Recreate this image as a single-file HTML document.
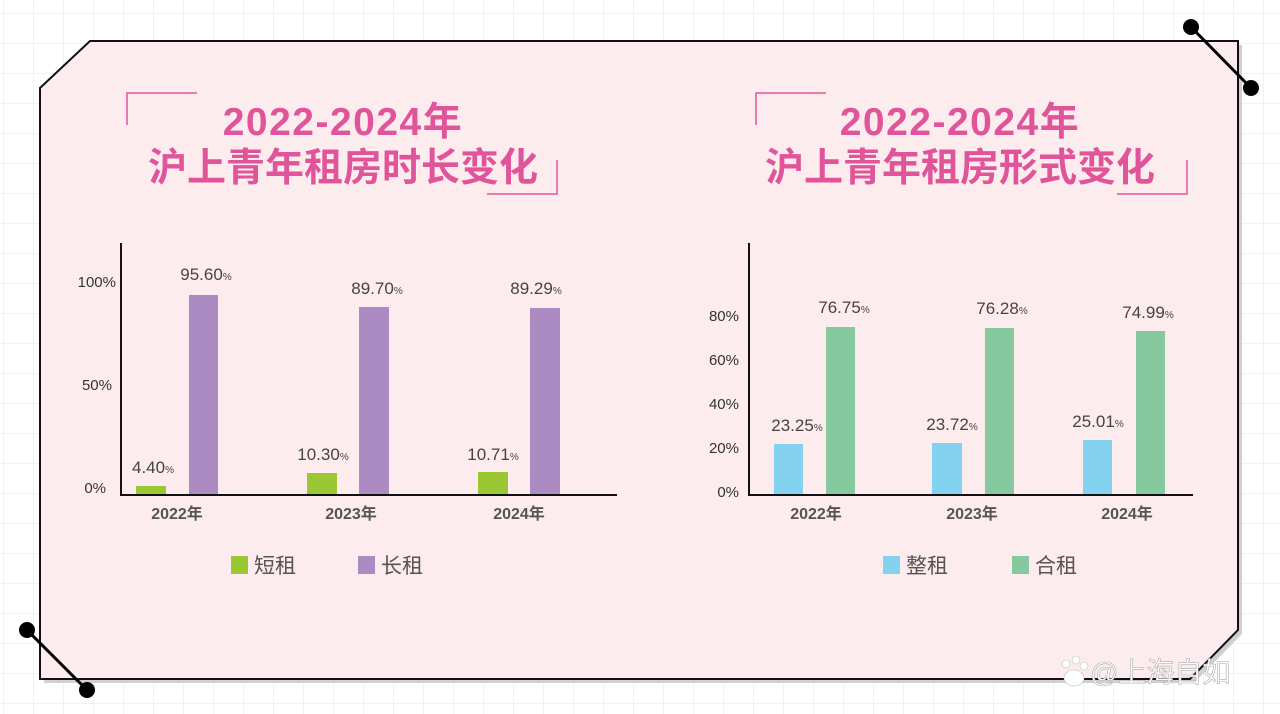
<!DOCTYPE html>
<html><head><meta charset="utf-8"><style>
html,body{margin:0;padding:0;background:#fff}
svg{display:block}
text{font-family:"Liberation Sans","Noto Sans CJK SC",sans-serif}
</style></head><body>
<svg width="1280" height="714" viewBox="0 0 1280 714" xmlns="http://www.w3.org/2000/svg">
<defs>
<pattern id="g" x="3" y="13" width="30" height="30" patternUnits="userSpaceOnUse">
<path d="M0 0H30M0 0V30" stroke="#e6e6e6" stroke-width="1" fill="none"/>
</pattern>
</defs>
<rect width="1280" height="714" fill="url(#g)"/>
<polygon points="44,92 94,45 1242,45 1242,634 1194,683 44,683" fill="#d0d0d0"/>
<polygon points="40,88 90,41 1238,41 1238,630 1190,679 40,679" fill="#fdecee" stroke="#111" stroke-width="2"/>
<line x1="1191" y1="27" x2="1251" y2="88" stroke="#000" stroke-width="3"/>
<circle cx="1191" cy="27" r="8"/><circle cx="1251" cy="88" r="8"/>
<line x1="27" y1="630" x2="87" y2="690" stroke="#000" stroke-width="3"/>
<circle cx="27" cy="630" r="8"/><circle cx="87" cy="690" r="8"/>

<!-- titles -->
<g fill="#e0559a" font-weight="bold" font-size="39" text-anchor="middle">
<text x="343" y="135" letter-spacing="1.5">2022-2024年</text>
<text x="343" y="181">沪上青年租房时长变化</text>
<text x="960" y="135" letter-spacing="1.5">2022-2024年</text>
<text x="960" y="181">沪上青年租房形式变化</text>
</g>
<g stroke="#e0559a" stroke-width="1.5" fill="none">
<path d="M197 93H127V125"/><path d="M557 160V194H487"/>
<path d="M826 93H756V125"/><path d="M1187 160V194H1117"/>
</g>

<!-- left chart -->
<g fill="#333" font-size="15" text-anchor="end">
<text x="116" y="287">100%</text><text x="112" y="390">50%</text><text x="106" y="493">0%</text>
</g>
<rect x="136" y="486" width="30" height="9" fill="#9ac733"/>
<rect x="189" y="295" width="29" height="200" fill="#ab8bc2"/>
<rect x="307" y="473" width="30" height="22" fill="#9ac733"/>
<rect x="359" y="307" width="30" height="188" fill="#ab8bc2"/>
<rect x="478" y="472" width="30" height="23" fill="#9ac733"/>
<rect x="530" y="308" width="30" height="187" fill="#ab8bc2"/>
<path d="M121 243V495H617" stroke="#111" stroke-width="2" fill="none"/>
<g fill="#444" font-size="17" text-anchor="middle">
<text x="153" y="473">4.40<tspan font-size="10">%</tspan></text>
<text x="206" y="280">95.60<tspan font-size="10">%</tspan></text>
<text x="323" y="460">10.30<tspan font-size="10">%</tspan></text>
<text x="377" y="294">89.70<tspan font-size="10">%</tspan></text>
<text x="493" y="460">10.71<tspan font-size="10">%</tspan></text>
<text x="536" y="294">89.29<tspan font-size="10">%</tspan></text>
</g>
<g fill="#555" font-size="16" font-weight="bold" text-anchor="middle">
<text x="177" y="519">2022年</text><text x="351" y="519">2023年</text><text x="519" y="519">2024年</text>
</g>
<rect x="231" y="556" width="17" height="18" fill="#9ac733"/>
<rect x="358" y="556" width="17" height="18" fill="#ab8bc2"/>
<g fill="#555" font-size="21"><text x="254" y="573">短租</text><text x="381" y="573">长租</text></g>

<!-- right chart -->
<g fill="#333" font-size="15" text-anchor="end">
<text x="739" y="321">80%</text><text x="739" y="365">60%</text><text x="739" y="409">40%</text><text x="739" y="453">20%</text><text x="739" y="497">0%</text>
</g>
<rect x="774" y="444" width="29" height="51" fill="#82d2f0"/>
<rect x="826" y="327" width="29" height="168" fill="#86c99e"/>
<rect x="932" y="443" width="30" height="52" fill="#82d2f0"/>
<rect x="985" y="328" width="29" height="167" fill="#86c99e"/>
<rect x="1083" y="440" width="29" height="55" fill="#82d2f0"/>
<rect x="1136" y="331" width="29" height="164" fill="#86c99e"/>
<path d="M749 243V495H1193" stroke="#111" stroke-width="2" fill="none"/>
<g fill="#444" font-size="17" text-anchor="middle">
<text x="797" y="431">23.25<tspan font-size="10">%</tspan></text>
<text x="844" y="313">76.75<tspan font-size="10">%</tspan></text>
<text x="952" y="430">23.72<tspan font-size="10">%</tspan></text>
<text x="1002" y="314">76.28<tspan font-size="10">%</tspan></text>
<text x="1098" y="427">25.01<tspan font-size="10">%</tspan></text>
<text x="1148" y="318">74.99<tspan font-size="10">%</tspan></text>
</g>
<g fill="#555" font-size="16" font-weight="bold" text-anchor="middle">
<text x="816" y="519">2022年</text><text x="972" y="519">2023年</text><text x="1127" y="519">2024年</text>
</g>
<rect x="883" y="556" width="17" height="18" fill="#82d2f0"/>
<rect x="1012" y="556" width="17" height="18" fill="#86c99e"/>
<g fill="#555" font-size="21"><text x="906" y="573">整租</text><text x="1035" y="573">合租</text></g>

<!-- watermark -->
<g fill="#fff" stroke="#bbb" stroke-width="0.6">
<circle cx="1066" cy="664" r="4"/><circle cx="1076" cy="660" r="4"/><circle cx="1084" cy="666" r="4"/>
<ellipse cx="1074" cy="678" rx="10" ry="8"/>
</g>
<text x="1090" y="682" font-size="28" fill="#fff" stroke="#aaa" stroke-width="0.6">@上海自如</text>
</svg>
</body></html>
